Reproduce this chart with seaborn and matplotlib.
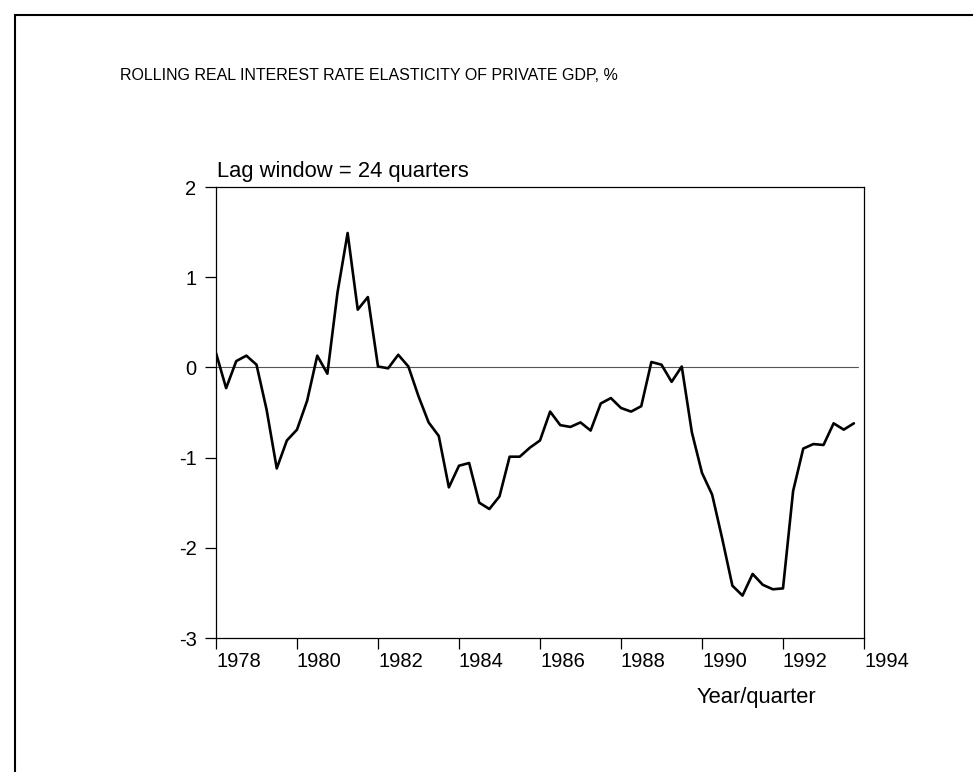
import numpy as np
import pandas as pd
import matplotlib
matplotlib.use("Agg")
import matplotlib.pyplot as plt
import seaborn as sns
from matplotlib.patches import Rectangle

# quarterly values, 1978Q1 .. 1993Q4
elasticity = [
    0.16, -0.23, 0.07, 0.13,      # 1978
    0.03, -0.47, -1.12, -0.81,    # 1979
    -0.69, -0.37, 0.13, -0.07,    # 1980
    0.83, 1.49, 0.64, 0.78,       # 1981
    0.01, -0.01, 0.14, 0.01,      # 1982
    -0.32, -0.61, -0.76, -1.33,   # 1983
    -1.09, -1.06, -1.50, -1.57,   # 1984
    -1.43, -0.99, -0.99, -0.89,   # 1985
    -0.81, -0.49, -0.64, -0.66,   # 1986
    -0.61, -0.70, -0.40, -0.34,   # 1987
    -0.45, -0.49, -0.43, 0.06,    # 1988
    0.03, -0.16, 0.01, -0.72,     # 1989
    -1.17, -1.41, -1.90, -2.42,   # 1990
    -2.53, -2.29, -2.41, -2.46,   # 1991
    -2.45, -1.37, -0.90, -0.85,   # 1992
    -0.86, -0.62, -0.69, -0.62,   # 1993
]
start_year = 1978
year_ticks = [1978, 1980, 1982, 1984, 1986, 1988, 1990, 1992, 1994]
y_ticks = [-3, -2, -1, 0, 1, 2]

quarters = [start_year + i / 4 for i in range(len(elasticity))]
df = pd.DataFrame({"quarter": quarters, "elasticity": elasticity})

sns.set_style("ticks")
plt.rcParams["font.family"] = ["Liberation Sans", "DejaVu Sans"]
plt.rcParams["text.color"] = "black"

W, H = 973, 772
fig = plt.figure(figsize=(W / 100, H / 100), dpi=100)
ax = fig.add_axes([216 / W, 1 - 638 / H, (864 - 216) / W, (638 - 187) / H])

ax.axhline(0, xmin=0, xmax=0.99, color="#555555", lw=0.8, zorder=1)
sns.lineplot(data=df, x="quarter", y="elasticity", ax=ax, color="black", lw=1.9, zorder=3)

ax.set_xlim(1978, 1994)
ax.set_ylim(-3, 2)
ax.set_xticks(year_ticks)
ax.set_xticklabels([str(y) for y in year_ticks], ha="left")
ax.set_yticks(y_ticks)
ax.set_yticklabels([str(v) for v in y_ticks])
ax.tick_params(axis="both", direction="out", length=8, width=0.9, color="black",
               labelsize=14.5, labelcolor="black")
ax.tick_params(axis="x", pad=2)
ax.tick_params(axis="y", pad=6)
for s in ax.spines.values():
    s.set_color("black")
    s.set_linewidth(0.9)
ax.set_xlabel("")
ax.set_ylabel("")

fig.text(120 / W, 1 - 76 / H, "ROLLING REAL INTEREST RATE ELASTICITY OF PRIVATE GDP, %",
         fontsize=11.5, color="black", va="center", ha="left")
fig.text(217 / W, 1 - 171 / H, "Lag window = 24 quarters", fontsize=15.8, color="black",
         va="center", ha="left")
fig.text(697 / W, 1 - 698 / H, "Year/quarter", fontsize=15.8, color="black", va="center", ha="left")

# page frame (left and top edges visible)
fig.patches.append(Rectangle((15 / W, -0.1), 1.2, 1 - 15 / H + 0.1, transform=fig.transFigure,
                             fill=False, edgecolor="black", lw=1.5))

fig.savefig("out.png", dpi=100)
